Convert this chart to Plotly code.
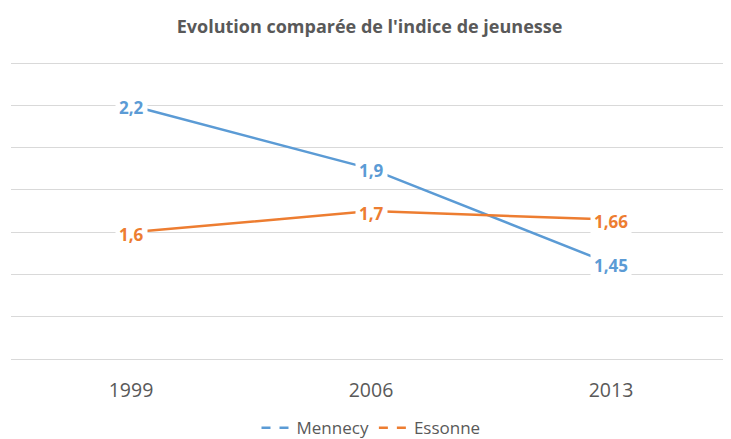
import plotly.graph_objects as go

years = ["1999", "2006", "2013"]
mennecy = [2.2, 1.9, 1.45]
essonne = [1.6, 1.7, 1.66]

BLUE = "#5B9BD5"
ORANGE = "#ED7D31"
GREY = "#595959"
FONT = "Open Sans"


def fr(v):
    return f"{v:g}".replace(".", ",")


fig = go.Figure()
for name, vals, col in [("Mennecy", mennecy, BLUE), ("Essonne", essonne, ORANGE)]:
    fig.add_trace(go.Scatter(x=years, y=vals, mode="lines", showlegend=False,
                             line=dict(color=col, width=2.5)))
    # legend entry drawn with a dashed sample, like the original
    fig.add_trace(go.Scatter(x=[None], y=[None], mode="lines", name=name,
                             line=dict(color=col, width=2.5, dash="dash")))

# data labels on a white box, centred on each point (x = category index)
for vals, col in [(mennecy, BLUE), (essonne, ORANGE)]:
    for i, v in enumerate(vals):
        fig.add_annotation(x=i, y=v, xref="x", yref="y", text="<b>" + fr(v) + "</b>",
                           showarrow=False, bgcolor="white", borderpad=3, yshift=-2,
                           font=dict(family=FONT, size=17, color=col))

# page body has an 8px margin, so the figure is 8px smaller than the window
fig.update_layout(
    width=723, height=431,
    margin=dict(l=3, r=0, t=51, b=80),
    paper_bgcolor="white", plot_bgcolor="white",
    title=dict(text="<b>Evolution comparée de l'indice de jeunesse</b>", x=0.5, xanchor="center",
               yref="container", y=1 - 19 / 431, yanchor="middle",
               font=dict(family=FONT, size=18, color=GREY)),
    legend=dict(orientation="h", x=0.5, xanchor="center", yref="container", y=0.025,
                yanchor="middle", font=dict(family=FONT, size=17, color=GREY)),
    xaxis=dict(type="category", range=[-0.5, 2.5], showgrid=False,
               showline=True, linecolor="#D9D9D9", linewidth=1,
               ticks="", ticklabelstandoff=14,
               tickfont=dict(family=FONT, size=19.5, color=GREY)),
    yaxis=dict(range=[1.0, 2.42], tick0=1.0, dtick=0.2, showticklabels=False,
               showgrid=True, gridcolor="#D9D9D9", gridwidth=1, zeroline=False),
)

fig.write_html("out.html")
